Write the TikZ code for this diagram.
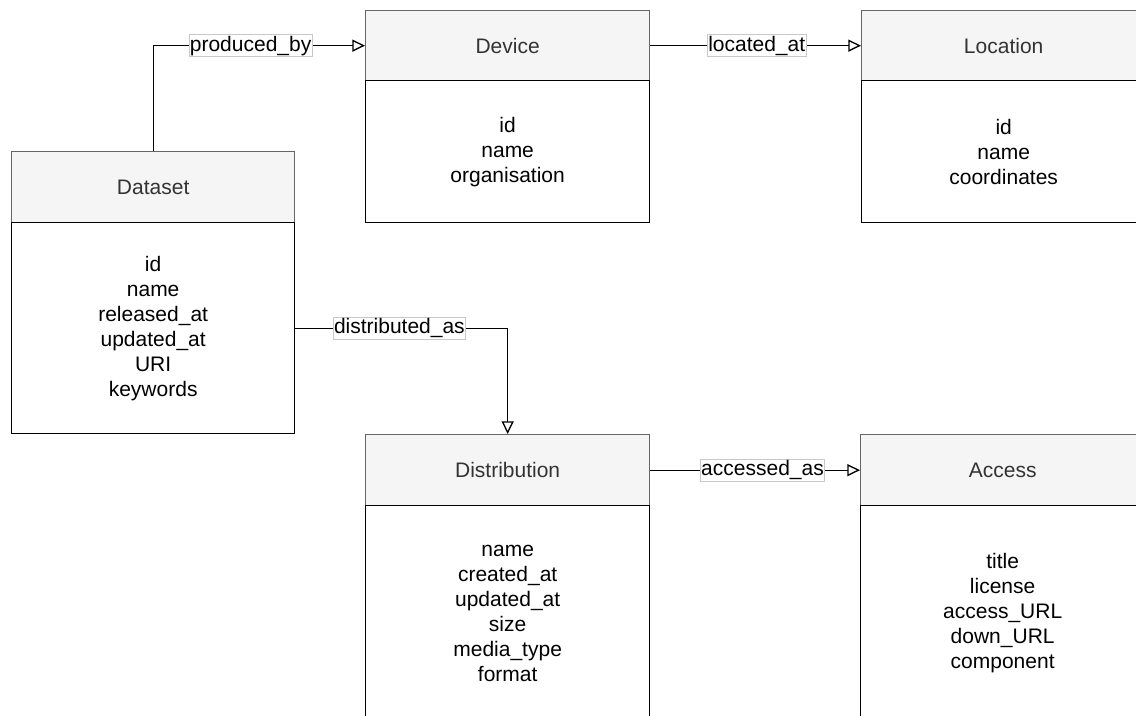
\documentclass[tikz,border=0pt]{standalone}
\usepackage{fontspec}
\setmainfont{Liberation Sans}
\usetikzlibrary{arrows.meta}
\definecolor{hdrfill}{HTML}{F5F5F5}
\definecolor{hdrtext}{HTML}{333333}
\definecolor{hdrline}{HTML}{666666}
\definecolor{lblline}{HTML}{C8C8C8}
\tikzset{
  base/.style={font=\fontsize{15.75pt}{18.75pt}\selectfont, inner sep=0pt, anchor=north west, line width=1pt},
  hdr/.style={base, draw=hdrline, fill=hdrfill, text=hdrtext},
  bodybox/.style={base, draw=black, fill=white, align=center, text=black},
  rel/.style={line width=1pt, -{Triangle[open, fill=white, length=9.5pt, width=9pt]}},
  lbl/.style={font=\fontsize{15.75pt}{18.75pt}\selectfont, fill=white, draw=lblline, line width=0.5pt, inner xsep=0.5pt, inner ysep=1pt, text=black}
}
\begin{document}
\begin{tikzpicture}[x=0.75pt,y=-0.75pt]
\useasboundingbox (0,0) rectangle (1136,715);
\clip (0,0) rectangle (1136,715);
\fill[white] (0,0) rectangle (1136,715);

% Dataset
\node[hdr, minimum width=212.25pt, minimum height=53.25pt] (dsh) at (11,151) {Dataset};
\node[bodybox, minimum width=212.25pt, minimum height=158.25pt] (dsb) at (11,222) {id\\name\\released\_at\\updated\_at\\URI\\keywords};

% Device
\node[hdr, minimum width=213pt, minimum height=52.5pt] (devh) at (365,10) {Device};
\node[bodybox, minimum width=213pt, minimum height=106.5pt] (devb) at (365,80) {id\\name\\organisation};

% Location
\node[hdr, minimum width=213pt, minimum height=52.5pt] (loch) at (861,10) {Location};
\node[bodybox, minimum width=213pt, minimum height=106.5pt] (locb) at (861,80) {id\\name\\coordinates};

% Distribution
\node[hdr, minimum width=213pt, minimum height=53.25pt] (disth) at (365,434) {Distribution};
\node[bodybox, minimum width=213pt, minimum height=161.25pt] (distb) at (365,505) {name\\created\_at\\updated\_at\\size\\media\_type\\format};

% Access
\node[hdr, minimum width=213pt, minimum height=53.25pt] (acch) at (860,434) {Access};
\node[bodybox, minimum width=213pt, minimum height=161.25pt] (accb) at (860,505) {title\\license\\access\_URL\\down\_URL\\component};

% Connectors
\draw[rel] (dsh.north) |- (devh.west) node[lbl, pos=0.73] {produced\_by};
\draw[rel] (devh.east) -- (loch.west) node[lbl, pos=0.505] {located\_at};
\draw[rel] (dsb.east) -| (disth.north) node[lbl, pos=0.245] {distributed\_as};
\draw[rel] (disth.east) -- (acch.west) node[lbl, pos=0.535] {accessed\_as};
\end{tikzpicture}
\end{document}
